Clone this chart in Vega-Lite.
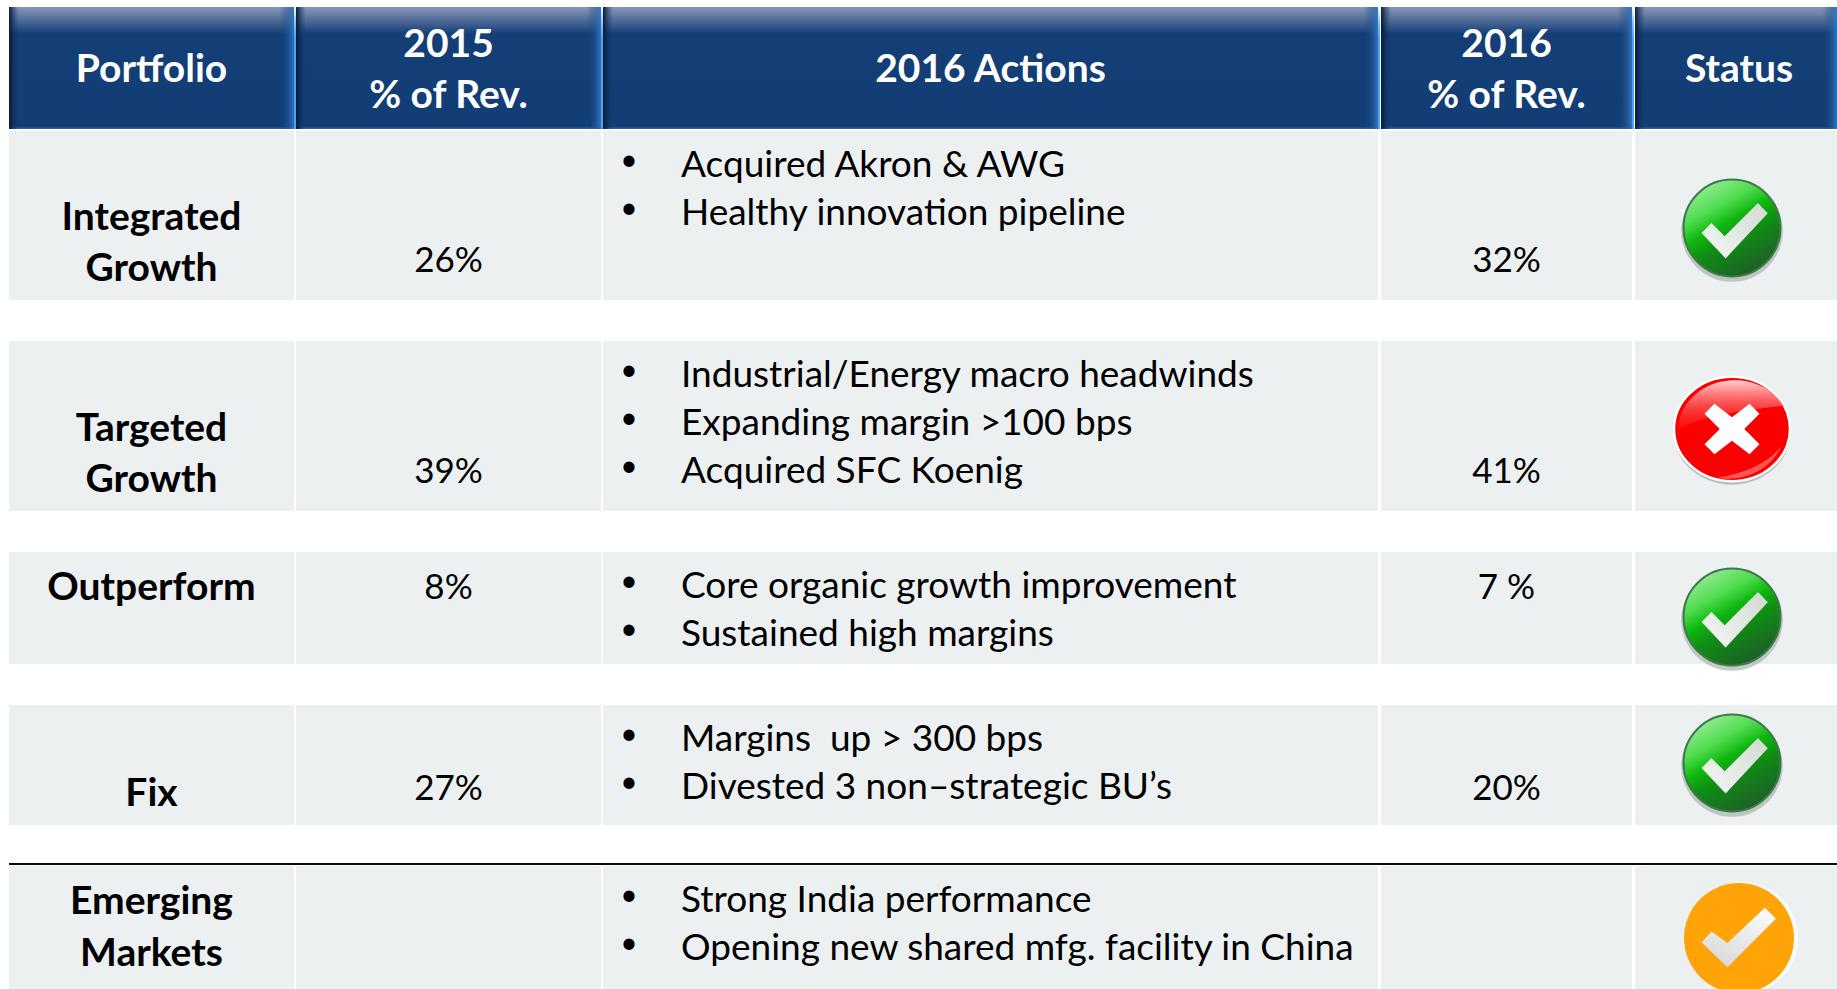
{"$schema":"https://vega.github.io/schema/vega-lite/v6.json","autosize":{"type":"fit","contains":"padding"},"width":1837,"height":989,"padding":0,"background":"white","view":{"stroke":null},
"config":{"text":{"font":"Lato"}},
"data":{"values":[
{"row":0,"col":0,"kind":"header","anchor":"middle","text":"Portfolio"},
{"row":0,"col":1,"kind":"header","anchor":"middle","text":"2015\n% of Rev."},
{"row":0,"col":2,"kind":"header","anchor":"middle","text":"2016 Actions"},
{"row":0,"col":3,"kind":"header","anchor":"middle","text":"2016\n% of Rev."},
{"row":0,"col":4,"kind":"header","anchor":"middle","text":"Status"},
{"row":1,"col":0,"kind":"label","anchor":"bottom","text":"Integrated\nGrowth"},
{"row":1,"col":1,"kind":"pct","anchor":"bottom","text":"26%"},
{"row":1,"col":2,"kind":"actions","anchor":"top","text":"Acquired Akron & AWG\nHealthy innovation pipeline"},
{"row":1,"col":3,"kind":"pct","anchor":"bottom","text":"32%"},
{"row":1,"col":4,"kind":"status","anchor":"middle","text":"","status":"green"},
{"row":2,"col":0,"kind":"label","anchor":"bottom","text":"Targeted\nGrowth"},
{"row":2,"col":1,"kind":"pct","anchor":"bottom","text":"39%"},
{"row":2,"col":2,"kind":"actions","anchor":"top","text":"Industrial/Energy macro headwinds\nExpanding margin >100 bps\nAcquired SFC Koenig"},
{"row":2,"col":3,"kind":"pct","anchor":"bottom","text":"41%"},
{"row":2,"col":4,"kind":"status","anchor":"middle","text":"","status":"red"},
{"row":3,"col":0,"kind":"label","anchor":"top","text":"Outperform"},
{"row":3,"col":1,"kind":"pct","anchor":"top","text":"8%"},
{"row":3,"col":2,"kind":"actions","anchor":"top","text":"Core organic growth improvement\nSustained high margins"},
{"row":3,"col":3,"kind":"pct","anchor":"top","text":"7 %"},
{"row":3,"col":4,"kind":"status","anchor":"middle","text":"","status":"green"},
{"row":4,"col":0,"kind":"label","anchor":"bottom","text":"Fix"},
{"row":4,"col":1,"kind":"pct","anchor":"bottom","text":"27%"},
{"row":4,"col":2,"kind":"actions","anchor":"top","text":"Margins \u00a0up > 300 bps\nDivested 3 non–strategic BU’s"},
{"row":4,"col":3,"kind":"pct","anchor":"bottom","text":"20%"},
{"row":4,"col":4,"kind":"status","anchor":"middle","text":"","status":"green"},
{"row":5,"col":0,"kind":"label","anchor":"top","text":"Emerging\nMarkets"},
{"row":5,"col":1,"kind":"blank","anchor":"top","text":""},
{"row":5,"col":2,"kind":"actions","anchor":"top","text":"Strong India performance\nOpening new shared mfg. facility in China"},
{"row":5,"col":3,"kind":"blank","anchor":"top","text":""},
{"row":5,"col":4,"kind":"status","anchor":"middle","text":"","status":"amber"}
]},
"transform":[{"calculate":"datum.col+0.98","as":"colEnd"},{"calculate":"datum.col+0.49","as":"xp"},{"calculate":"datum.row+0.8","as":"rowEnd"},{"calculate":"datum.row+0.4","as":"yp"},{"calculate":"indexof(datum.text,'\\n')>=0 ? 2 : 1","as":"lines"}],
"encoding":{
"x":{"field":"xp","type":"quantitative","axis":null,"scale":{"domain":[0,0.49,0.98,1,1.49,1.98,2,2.49,2.98,3,3.49,3.98,4,4.49,4.98],"range":[9,151.5,294,296,448.5,601,603,990.5,1378,1381,1506.5,1632,1635,1739,1837]}},
"y":{"field":"yp","type":"quantitative","axis":null,"scale":{"domain":[0,0.4,0.8,1,1.4,1.75,1.8,2,2.4,2.75,2.8,3,3.4,3.8,4,4.4,4.75,4.8,5,5.4,5.8],"range":[7,68,129,131,228,260.5,300,341,429,471.5,511,552,617,664,705,763,789,825,866,938,989]}}},
"layer":[
{"transform":[{"filter":"datum.row>0"},{"calculate":"datum.col","as":"xp"},{"calculate":"datum.row","as":"yp"}],"mark":{"type":"rect","fill":"#ecf0f1"},"encoding":{"x2":{"field":"colEnd"},"y2":{"field":"rowEnd"}}},
{"transform":[{"filter":"datum.row==0"},{"calculate":"datum.col","as":"xp"},{"calculate":"datum.row","as":"yp"}],"mark":{"type":"rect","fill":{"gradient":"linear","x1":0,"y1":0,"x2":0,"y2":1,"stops":[{"offset":0,"color":"#8396b8"},{"offset":0.05,"color":"#6f84a9"},{"offset":0.22,"color":"#143e76"},{"offset":0.98,"color":"#123d75"},{"offset":1,"color":"#2f6fb5"}]}},"encoding":{"x2":{"field":"colEnd"},"y2":{"field":"rowEnd"}}},
{"transform":[{"filter":"datum.row==0"},{"calculate":"datum.col","as":"xp"},{"calculate":"datum.row","as":"yp"}],"mark":{"type":"rect","width":10,"xOffset":5,"fill":{"gradient":"linear","x1":0,"y1":0,"x2":1,"y2":0,"stops":[{"offset":0,"color":"rgba(6,22,48,0.95)"},{"offset":1,"color":"rgba(18,61,117,0)"}]}},"encoding":{"y2":{"field":"rowEnd"}}},
{"transform":[{"filter":"datum.row==0"},{"calculate":"datum.colEnd","as":"xp"},{"calculate":"datum.row","as":"yp"}],"mark":{"type":"rect","width":14,"xOffset":-7,"fill":{"gradient":"linear","x1":0,"y1":0,"x2":1,"y2":0,"stops":[{"offset":0,"color":"rgba(18,61,117,0)"},{"offset":1,"color":"rgba(50,118,195,0.95)"}]}},"encoding":{"y2":{"field":"rowEnd"}}},
{"transform":[{"filter":"datum.row==0 && datum.col<4"},{"calculate":"datum.colEnd","as":"xp"},{"calculate":"datum.row","as":"yp"}],"mark":{"type":"rect","width":2,"xOffset":1,"fill":{"gradient":"linear","x1":0,"y1":0,"x2":0,"y2":1,"stops":[{"offset":0,"color":"#ffffff"},{"offset":0.12,"color":"#8cc4f5"},{"offset":0.25,"color":"#4fa3ee"},{"offset":1,"color":"#4fa3ee"}]}},"encoding":{"y2":{"field":"rowEnd"}}},
{"transform":[{"filter":"datum.row==5 && datum.col==0"},{"calculate":"datum.col","as":"xp"},{"calculate":"datum.row","as":"yp"}],"mark":{"type":"rule","color":"#0a0a0a","strokeWidth":2,"yOffset":-2},"encoding":{"x2":{"datum":4.98}}},
{"transform":[{"filter":"datum.kind=='header' && datum.lines==1"}],"mark":{"type":"text","align":"center","baseline":"middle","dy":2,"fontSize":39,"fontWeight":"bold","color":"white"},"encoding":{"text":{"field":"text"}}},
{"transform":[{"filter":"datum.kind=='header' && datum.lines==2"}],"mark":{"type":"text","align":"center","baseline":"middle","dy":-23,"fontSize":39,"fontWeight":"bold","color":"white","lineBreak":"\n","lineHeight":51},"encoding":{"text":{"field":"text"}}},
{"transform":[{"filter":"datum.kind=='label' && datum.anchor=='bottom' && datum.lines==2"},{"calculate":"datum.rowEnd","as":"yp"}],"mark":{"type":"text","align":"center","baseline":"bottom","dy":-62,"fontSize":39,"fontWeight":"bold","color":"#000","lineBreak":"\n","lineHeight":51},"encoding":{"text":{"field":"text"}}},
{"transform":[{"filter":"datum.kind=='label' && datum.anchor=='bottom' && datum.lines==1"},{"calculate":"datum.rowEnd","as":"yp"}],"mark":{"type":"text","align":"center","baseline":"bottom","dy":-11,"fontSize":39,"fontWeight":"bold","color":"#000"},"encoding":{"text":{"field":"text"}}},
{"transform":[{"filter":"datum.kind=='label' && datum.anchor=='top'"},{"calculate":"datum.row","as":"yp"}],"mark":{"type":"text","align":"center","baseline":"top","dy":17,"fontSize":39,"fontWeight":"bold","color":"#000","lineBreak":"\n","lineHeight":52},"encoding":{"text":{"field":"text"}}},
{"transform":[{"filter":"datum.kind=='pct' && datum.anchor=='bottom'"},{"calculate":"datum.row+0.75","as":"yp"}],"mark":{"type":"text","align":"center","baseline":"middle","fontSize":35,"color":"#000"},"encoding":{"text":{"field":"text"}}},
{"transform":[{"filter":"datum.kind=='pct' && datum.anchor=='top'"},{"calculate":"datum.row","as":"yp"}],"mark":{"type":"text","align":"center","baseline":"top","dy":19,"fontSize":35,"color":"#000"},"encoding":{"text":{"field":"text"}}},
{"transform":[{"filter":"datum.kind=='actions'"},{"calculate":"datum.col","as":"xp"},{"calculate":"datum.row","as":"yp"}],"mark":{"type":"text","align":"left","baseline":"top","dx":78,"dy":17,"fontSize":37,"color":"#000","lineBreak":"\n","lineHeight":48},"encoding":{"text":{"field":"text"}}},
{"transform":[{"filter":"datum.kind=='actions'"},{"calculate":"datum.col","as":"xp"},{"calculate":"datum.row","as":"yp"},{"calculate":"replace(datum.text, /[^\\n]+/g, '•')","as":"bullets"}],"mark":{"type":"text","align":"center","baseline":"top","dx":26,"dy":15,"fontSize":30,"color":"#000","lineBreak":"\n","lineHeight":48},"encoding":{"text":{"field":"bullets"}}},
{"transform":[{"filter":"datum.status=='green'"}],"mark":{"type":"point","filled":true,"shape":"circle","size":10300,"xOffset":-7,"yOffset":3,"fill":"#aab3af","opacity":0.7}},
{"transform":[{"filter":"datum.status=='green'"}],"mark":{"type":"point","filled":true,"shape":"circle","size":9400,"xOffset":-7,"fill":{"gradient":"linear","x1":0.2,"y1":0,"x2":0.75,"y2":1,"stops":[{"offset":0,"color":"#a3eea0"},{"offset":0.28,"color":"#4fdc4f"},{"offset":0.44,"color":"#10b810"},{"offset":0.6,"color":"#0f8f14"},{"offset":1,"color":"#21582a"}]},"stroke":"#3d7a4a","strokeWidth":2,"opacity":1}},
{"transform":[{"filter":"datum.status=='green'"}],"mark":{"type":"point","filled":true,"shape":"M-.62 .1L-.42 -.1L-.15 .17L.53 -.51L.73 -.3L-.13 .62Z","size":9604,"xOffset":-7,"fill":{"gradient":"linear","x1":0,"y1":1,"x2":1,"y2":0,"stops":[{"offset":0,"color":"#f6f8f6"},{"offset":1,"color":"#d0d9d0"}]},"opacity":1}},
{"transform":[{"filter":"datum.status=='red'"}],"mark":{"type":"point","filled":true,"shape":"M-1 0A1 .9 0 1 1 1 0A1 .9 0 1 1 -1 0Z","size":13689,"xOffset":-7,"yOffset":3,"fill":"#8f9694","opacity":0.55}},
{"transform":[{"filter":"datum.status=='red'"}],"mark":{"type":"point","filled":true,"shape":"M-1 0A1 .9 0 1 1 1 0A1 .9 0 1 1 -1 0Z","size":13450,"xOffset":-7,"fill":"#fb0000","stroke":"white","strokeWidth":2.5,"opacity":1}},
{"transform":[{"filter":"datum.status=='red'"}],"mark":{"type":"point","filled":true,"shape":"M-.93 .03Q-.6 -.25 .9 -.4A.98 .88 0 0 0 -.93 .03Z","size":13450,"xOffset":-7,"fill":{"gradient":"linear","x1":0.5,"y1":0,"x2":0.5,"y2":1,"stops":[{"offset":0,"color":"rgba(255,220,220,0.95)"},{"offset":0.5,"color":"rgba(255,120,120,0.6)"},{"offset":1,"color":"rgba(255,50,50,0.2)"}]},"opacity":1}},
{"transform":[{"filter":"datum.status=='red'"}],"mark":{"type":"point","filled":true,"shape":"M-.25 .84Q.5 .72 .85 .3A.98 .88 0 0 1 -.25 .84Z","size":13450,"xOffset":-7,"fill":"#ff9c9c","opacity":0.55}},
{"transform":[{"filter":"datum.status=='red'"}],"mark":{"type":"point","filled":true,"shape":"M-.3 -.43L0 -.2L.3 -.43L.47 -.26L.21 0L.47 .26L.3 .43L0 .2L-.3 .43L-.47 .26L-.21 0L-.47 -.26Z","size":13689,"xOffset":-7,"fill":"#ffffff","opacity":1}},
{"transform":[{"filter":"datum.status=='amber'"}],"mark":{"type":"point","filled":true,"shape":"circle","size":12600,"xOffset":3,"fill":"#fafbfb","opacity":1}},
{"transform":[{"filter":"datum.status=='amber'"}],"mark":{"type":"point","filled":true,"shape":"circle","size":12100,"fill":"#ffa408","opacity":1}},
{"transform":[{"filter":"datum.status=='amber'"}],"mark":{"type":"point","filled":true,"shape":"M-.68 .08L-.5 -.12L-.21 .09L.47 -.55L.67 -.35L-.21 .53Z","size":12100,"fill":{"gradient":"linear","x1":0.8,"y1":0,"x2":0.3,"y2":1,"stops":[{"offset":0,"color":"#fbfbfb"},{"offset":1,"color":"#d9d9d9"}]},"opacity":1}}
]}
